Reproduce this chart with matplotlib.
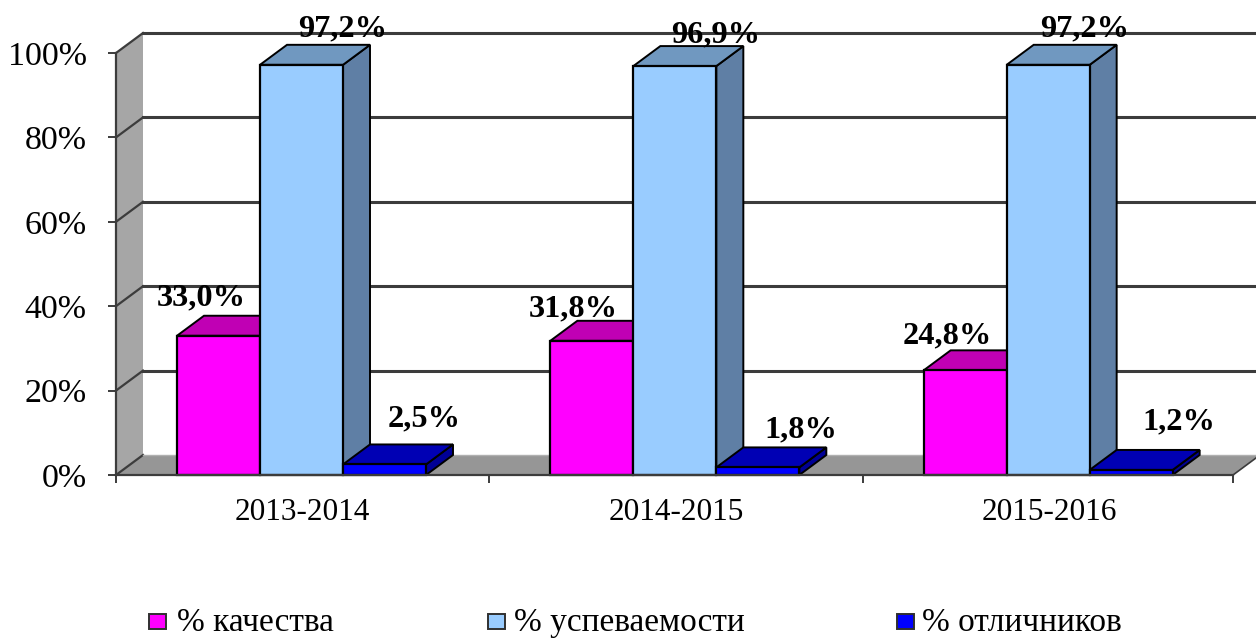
import matplotlib
matplotlib.use('Agg')
import matplotlib.pyplot as plt
from matplotlib.patches import Polygon, Rectangle

# values
years = ['2013-2014', '2014-2015', '2015-2016']
series_names = ['% качества', '% успеваемости', '% отличников']
quality = [33.0, 31.8, 24.8]
progress = [97.2, 96.9, 97.2]
excellent = [2.5, 1.8, 1.2]
y_ticks = [0, 20, 40, 60, 80, 100]

W, H = 1256, 639
LEFT, RIGHT, BOTTOM, TOP = 116, 1236, 475, 53

plt.rcParams['font.family'] = ['Liberation Serif', 'DejaVu Serif']

fig = plt.figure(figsize=(W / 100, H / 100), dpi=100)
ax = fig.add_axes([LEFT / W, 1 - BOTTOM / H, (RIGHT - LEFT) / W, (BOTTOM - TOP) / H])
ax.set_xlim(0, 3)
ax.set_ylim(0, 100)

# depth of the fake 3d box, in data units
cat_px = (RIGHT - LEFT) / 3
pct_px = (BOTTOM - TOP) / 100
dx = 27 / cat_px
dy = 20 / pct_px
bar_w = 83 / cat_px
bar_start = 61 / cat_px
x_end = 2.992  # floor stops a little short of the third category

GRID = '#3c3c3c'

# walls
ax.add_patch(Polygon([(0, 0), (dx, dy), (dx, 100 + dy), (0, 100)], fc='#a6a6a6', ec='none',
                     clip_on=False, zorder=1))
ax.add_patch(Polygon([(0, 0), (x_end, 0), (x_end + dx, dy), (dx, dy)], fc='#969696', ec='none',
                     clip_on=False, zorder=1))

# gridlines on the back wall and the left wall
for t in y_ticks:
    lw = 2.2 if t else 1.2
    ax.plot([0, dx], [t, t + dy], color=GRID, lw=1.6, clip_on=False, zorder=2)
    if t:
        ax.plot([dx, x_end + dx], [t + dy, t + dy], color=GRID, lw=lw, clip_on=False, zorder=2)
ax.plot([dx, x_end + dx], [dy, dy], color='#b0b0b0', lw=1.0, clip_on=False, zorder=2)
ax.plot([x_end, x_end + dx], [0, dy], color=GRID, lw=1.2, clip_on=False, zorder=2)

colors = ['#ff00ff', '#99ccff', '#0000ff']
top_colors = ['#c000b4', '#7098c0', '#0000b4']
side_colors = ['#a000a0', '#5f7fa5', '#000096']
all_series = [quality, progress, excellent]

z = 3
for i in range(len(years)):
    for j, vals in enumerate(all_series):
        x0 = i + bar_start + j * bar_w
        v = vals[i]
        ax.bar(x0, v, width=bar_w, align='edge', color=colors[j], edgecolor='black',
               linewidth=1.6, clip_on=False, zorder=z + 2)
        ax.add_patch(Polygon([(x0 + bar_w, 0), (x0 + bar_w + dx, dy), (x0 + bar_w + dx, v + dy), (x0 + bar_w, v)],
                             fc=side_colors[j], ec='black', lw=1.4, clip_on=False, zorder=z))
        ax.add_patch(Polygon([(x0, v), (x0 + dx, v + dy), (x0 + bar_w + dx, v + dy), (x0 + bar_w, v)],
                             fc=top_colors[j], ec='black', lw=1.4, clip_on=False, zorder=z + 1))
    z += 3

# labels are not placed evenly in the original, nudges in pixels from bar left/top
nudge_x = [[24, 83, 81], [23, 82, 84], [24, 78, 89]]
nudge_y = [[38, 36, 46], [32, 31, 37], [34, 36, 48]]
for i in range(len(years)):
    for j, vals in enumerate(all_series):
        x0 = i + bar_start + j * bar_w
        txt = f'{vals[i]:.1f}%'.replace('.', ',')
        ax.annotate(txt, (x0, vals[i]), xytext=(nudge_x[i][j] * 0.72, nudge_y[i][j] * 0.72),
                    textcoords='offset points', ha='center', va='center',
                    fontsize=23.3, fontweight='bold', color='black', zorder=50, annotation_clip=False)

# axes
for s in ['top', 'right']:
    ax.spines[s].set_visible(False)
ax.spines['bottom'].set_bounds(0, x_end)
for s in ['left', 'bottom']:
    ax.spines[s].set_color(GRID)
    ax.spines[s].set_linewidth(1.6)
    ax.spines[s].set_zorder(40)
ax.set_yticks(y_ticks)
ax.set_yticklabels([f'{t}%' for t in y_ticks], fontsize=24.5)
ax.set_xticks([0, 1, 2, x_end])
ax.set_xticklabels([])
ax.tick_params(axis='y', length=6, width=1.4, color=GRID, pad=15)
ax.tick_params(axis='x', length=6, width=1.4, color=GRID)
for i, name in enumerate(years):
    ax.annotate(name, (i + 0.5, 0), xytext=(0, -37 * 0.72), textcoords='offset points',
                ha='center', va='center', fontsize=22.5, annotation_clip=False)

# legend by hand, the entries are unevenly spaced
box_x = [149, 488, 897]
text_x = [177, 514, 922]
for bx, tx, name, c in zip(box_x, text_x, series_names, colors):
    fig.add_artist(Rectangle((bx / W, 1 - 629 / H), 17 / W, 15 / H, fc=c, ec='#303030', lw=1.4,
                             transform=fig.transFigure))
    fig.text(tx / W, 1 - 631 / H, name, fontsize=24, ha='left', va='baseline', color='black')

fig.savefig('out.png', dpi=100, facecolor='white')
